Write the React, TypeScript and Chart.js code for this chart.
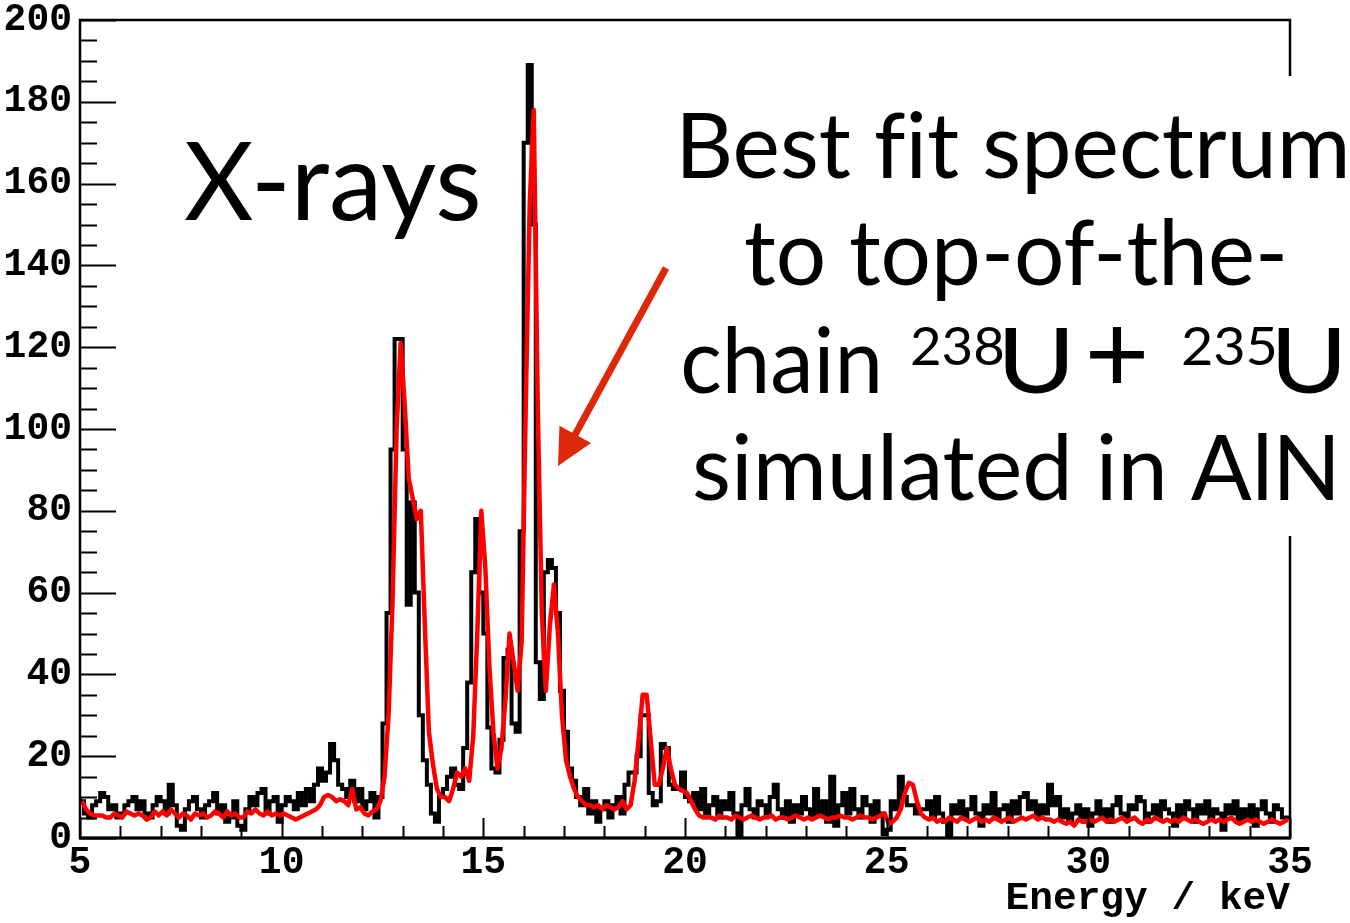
import React, { useEffect, useRef } from 'react';
import { Chart, registerables } from 'chart.js';

Chart.register(...registerables);

// ---- axis definition ----
const X_MIN = 5;
const X_MAX = 35;
const BIN_WIDTH = 0.1; // keV per histogram bin
const Y_MIN = 0;
const Y_MAX = 200;
const X_TICK_STEP = 5;
const Y_TICK_STEP = 20;
const X_TITLE = 'Energy / keV';

// ---- measured spectrum (counts per 0.1 keV bin, bins start at 5.0 keV) ----
const measuredCounts = [
  10, 9, 6, 5, 8, 9, 11, 10, 7, 8,
  5, 6, 8, 9, 10, 7, 9, 6, 5, 8,
  10, 9, 6, 13, 8, 3, 2, 7, 9, 10,
  7, 5, 8, 9, 11, 6, 8, 4, 5, 9,
  3, 2, 7, 10, 8, 11, 12, 6, 9, 10,
  4, 8, 10, 9, 7, 11, 8, 12, 9, 13,
  17, 14, 16, 23, 19, 13, 12, 10, 14, 9,
  12, 7, 9, 11, 5, 10, 28, 55, 95, 122,
  122, 95, 57, 82, 60, 30, 19, 13, 6, 4,
  10, 12, 15, 17, 13, 12, 22, 38, 65, 78,
  60, 50, 27, 17, 16, 24, 44, 46, 28, 26,
  75, 170, 189, 150, 43, 34, 65, 68, 66, 55,
  36, 26, 17, 14, 10, 8, 12, 6, 9, 4,
  7, 9, 5, 8, 10, 6, 13, 16, 16, 20,
  30, 30, 11, 8, 9, 23, 22, 13, 12, 12,
  16, 10, 9, 11, 7, 12, 6, 8, 10, 5,
  9, 7, 11, 6, 0, 8, 12, 7, 5, 9,
  8, 6, 10, 13, 7, 5, 9, 4, 8, 6,
  10, 7, 5, 12, 6, 9, 4, 15, 3, 8,
  11, 6, 12, 7, 5, 10, 8, 4, 9, 6,
  1, 2, 9, 7, 15, 10, 8, 8, 6, 7,
  7, 9, 5, 10, 6, 4, 0, 8, 6, 9,
  5, 7, 10, 6, 3, 8, 6, 11, 5, 7,
  8, 4, 9, 6, 10, 11, 7, 9, 5, 8,
  6, 13, 8, 10, 5, 7, 4, 6, 8, 5,
  7, 3, 6, 9, 5, 7, 4, 8, 10, 6,
  5, 8, 7, 10, 9, 4, 6, 8, 5, 9,
  7, 6, 3, 8, 5, 9, 7, 4, 8, 6,
  9, 5, 7, 6, 2, 8, 6, 9, 4, 7,
  5, 8, 3, 7, 9, 6, 4, 8, 7, 5,
];

// ---- best-fit simulated spectrum (value at each bin centre) ----
const fitCounts = [
  9, 7, 6, 5.5, 5.5, 5.5, 5, 5, 6, 5.5,
  5, 6.5, 6, 5.5, 6, 5.5, 4.5, 5, 6.5, 5.5,
  6.5, 5.5, 7, 6, 5, 6, 5.5, 4.5, 6, 5.5,
  6, 5, 5.5, 6.5, 6, 5, 6.5, 5.5, 6, 5,
  5, 6.5, 6, 7, 6, 5.5, 6.5, 5.5, 6, 5.5,
  6, 5.5, 5, 4.5, 5, 5.5, 6, 6.5, 7, 8,
  10, 10.5, 10, 9, 9.5, 9, 8, 12, 7, 7.5,
  6, 5.5, 6.5, 7, 9, 15, 30, 58, 100, 121,
  106, 88, 83, 78, 80, 52, 26, 18, 12, 10,
  10, 9, 12, 16, 15, 17, 14, 25, 50, 80,
  66, 42, 26, 17, 22, 34, 50, 43, 36, 48,
  105, 155, 178, 105, 55, 36, 52, 62, 50, 30,
  19, 15, 12, 10, 9, 8, 8, 7.5, 8, 7,
  8, 7.5, 7, 7.5, 9, 7, 8, 14, 24, 35,
  35, 24, 13, 13, 17, 22, 17, 13, 12, 11.5,
  11, 9, 7, 5.5, 5, 5, 5, 4.5, 5.5, 5,
  5, 4.5, 5.5, 5, 4.5, 5, 5.5, 5, 4.5, 5,
  5, 5.5, 4.5, 5, 5, 4.5, 5, 5.5, 5, 4.5,
  5, 4.5, 5, 5.5, 5, 4.5, 5, 5, 5.5, 5,
  5, 4.5, 5, 5.5, 5, 5, 4.5, 5, 5.5, 6,
  3.5, 4, 5, 7, 11, 13.5, 13, 9, 6, 5,
  4.5, 5, 4, 4.5, 4, 5, 4.5, 4, 5, 4.5,
  4, 4.5, 5, 4, 4.5, 4, 5, 4.5, 4, 4.5,
  5, 4, 4.5, 5, 4.5, 5, 5.5, 4.5, 5, 4.5,
  4.5, 4, 4.5, 4, 3.5, 4, 3, 4.5, 4, 4,
  4.5, 4, 4.5, 5, 4, 4.5, 4, 4.5, 5, 4,
  4.5, 5, 4, 3.5, 4.5, 4, 5, 4.5, 4, 4.5,
  4, 4.5, 4, 5, 4.5, 4, 4.5, 4, 3.5, 4,
  4.5, 4, 4.5, 4, 4.5, 5, 4, 3.5, 4, 4.5,
  4, 4.5, 4, 3.5, 4, 4.5, 4, 3.5, 4, 4.5,
];

// ---- annotation texts ----
const LABEL_LEFT = 'X-rays';
const LABEL_RIGHT_1 = 'Best fit spectrum';
const LABEL_RIGHT_2 = 'to top-of-the-';
const LABEL_RIGHT_4 = 'simulated in AlN';

const TEXT_FONT = 'Lato, "Open Sans", sans-serif';
const AXIS_FONT = '"Liberation Mono", "DejaVu Sans Mono", monospace';

function fitText(ctx: CanvasRenderingContext2D, text: string, size: number, xLeft: number, xRight: number, baseline: number) {
  ctx.font = `${size}px ${TEXT_FONT}`;
  ctx.textAlign = 'left';
  ctx.textBaseline = 'alphabetic';
  try { (ctx as any).letterSpacing = '0.01px'; } catch (e) { /* ignore */ }
  const m = ctx.measureText(text);
  const ink = m.actualBoundingBoxLeft + m.actualBoundingBoxRight;
  const sx = (xRight - xLeft) / ink;
  ctx.save();
  ctx.translate(xLeft, baseline);
  ctx.scale(sx, 1);
  ctx.fillText(text, m.actualBoundingBoxLeft, 0);
  ctx.restore();
}

function centerText(ctx: CanvasRenderingContext2D, text: string, size: number, cx: number, baseline: number) {
  ctx.font = `${size}px ${TEXT_FONT}`;
  ctx.textAlign = 'center';
  ctx.textBaseline = 'alphabetic';
  ctx.fillText(text, cx, baseline);
}

const decorPlugin = {
  id: 'decor',
  afterDatasetsDraw(chart: any) {
    const { ctx, chartArea, scales } = chart;
    const { left, right, top, bottom } = chartArea;
    const xs = scales.x;
    const ys = scales.y;
    ctx.save();
    ctx.strokeStyle = '#000';
    ctx.lineCap = 'butt';
    // inner ticks on y axis
    ctx.lineWidth = 2;
    for (let v = Y_MIN; v <= Y_MAX; v += 5) {
      const py = Math.round(ys.getPixelForValue(v)) + 0.5;
      const len = v % Y_TICK_STEP === 0 ? 36 : 17;
      ctx.beginPath();
      ctx.moveTo(left, py);
      ctx.lineTo(left + len, py);
      ctx.stroke();
    }
    // inner ticks on x axis
    for (let k = X_MIN; k <= X_MAX; k += 1) {
      const px = Math.round(xs.getPixelForValue(k)) + 0.5;
      const len = k % X_TICK_STEP === 0 ? 20 : 12;
      ctx.beginPath();
      ctx.moveTo(px, bottom);
      ctx.lineTo(px, bottom - len);
      ctx.stroke();
    }
    // frame
    ctx.lineWidth = 2.5;
    ctx.strokeRect(left, top, right - left, bottom - top);
    ctx.lineWidth = 3;
    ctx.beginPath();
    ctx.moveTo(left - 1, bottom);
    ctx.lineTo(right + 1, bottom);
    ctx.stroke();

    // white text box on the right
    ctx.fillStyle = '#fff';
    ctx.fillRect(676, 76, chart.width - 676, 460);

    // texts
    ctx.fillStyle = '#000';
    fitText(ctx, LABEL_LEFT, 108, 185, 478, 220);
    fitText(ctx, LABEL_RIGHT_1, 92, 683, 1345, 178);
    fitText(ctx, LABEL_RIGHT_2, 92, 745, 1283, 285);
    fitText(ctx, 'chain', 92, 683, 878, 393);
    fitText(ctx, '238', 53, 912, 1003, 365);
    fitText(ctx, 'U', 92, 1005, 1068, 393);
    centerText(ctx, '+', 112, 1117, 393);
    fitText(ctx, '235', 53, 1183, 1275, 365);
    fitText(ctx, 'U', 92, 1278, 1340, 393);
    fitText(ctx, LABEL_RIGHT_4, 92, 695, 1333, 500);

    // red arrow
    const tipX = 558, tipY = 466;
    const startX = 666, startY = 268;
    const dx = tipX - startX, dy = tipY - startY;
    const L = Math.hypot(dx, dy);
    const ux = dx / L, uy = dy / L;
    const headLen = 36, headHalf = 18;
    const bx = tipX - ux * headLen, by = tipY - uy * headLen;
    ctx.strokeStyle = 'rgb(222,40,10)';
    ctx.fillStyle = 'rgb(222,40,10)';
    ctx.lineWidth = 7;
    ctx.beginPath();
    ctx.moveTo(startX, startY);
    ctx.lineTo(bx + ux * 4, by + uy * 4);
    ctx.stroke();
    ctx.beginPath();
    ctx.moveTo(tipX, tipY);
    ctx.lineTo(bx - uy * headHalf, by + ux * headHalf);
    ctx.lineTo(bx + uy * headHalf, by - ux * headHalf);
    ctx.closePath();
    ctx.fill();
    ctx.restore();
  },
};

export default function App() {
  const canvasRef = useRef<HTMLCanvasElement | null>(null);

  useEffect(() => {
    const canvas = canvasRef.current;
    if (!canvas) return;

    const histPoints = measuredCounts.map((v, i) => ({ x: X_MIN + i * BIN_WIDTH, y: v }));
    histPoints.push({ x: X_MAX, y: measuredCounts[measuredCounts.length - 1] });
    const fitPoints = fitCounts.map((v, i) => ({ x: X_MIN + (i + 0.5) * BIN_WIDTH, y: v }));

    const tickFont = { family: AXIS_FONT, weight: 'bold' as const, size: 38, lineHeight: 1.2 };

    const chart = new Chart(canvas, {
      type: 'line',
      data: {
        datasets: [
          {
            label: 'Best fit',
            data: fitPoints,
            borderColor: '#ff0000',
            borderWidth: 4.5,
            borderJoinStyle: 'round',
            pointRadius: 0,
            tension: 0,
            fill: false,
            order: 1,
          },
          {
            label: 'Data',
            data: histPoints,
            borderColor: '#000000',
            borderWidth: 4,
            pointRadius: 0,
            stepped: 'after',
            fill: false,
            order: 2,
          },
        ],
      },
      options: {
        responsive: false,
        animation: false,
        devicePixelRatio: 1,
        layout: { padding: { top: 20, right: 60, left: 0, bottom: 0 } },
        plugins: {
          legend: { display: false },
          tooltip: { enabled: false },
          title: { display: false },
        },
        scales: {
          x: {
            type: 'linear',
            min: X_MIN,
            max: X_MAX,
            grid: { display: false, drawTicks: false },
            border: { display: false },
            ticks: {
              stepSize: X_TICK_STEP,
              color: '#000',
              font: tickFont,
              padding: 3,
              maxRotation: 0,
              autoSkip: false,
            },
            title: {
              display: true,
              text: X_TITLE,
              align: 'end',
              color: '#000',
              font: { family: AXIS_FONT, weight: 'bold', size: 39.5, lineHeight: 1.2 },
              padding: { top: 0, bottom: 0 },
            },
            afterFit: (s: any) => {
              s.height = 85;
              s.paddingLeft = 0;
              s.paddingRight = 0;
            },
          },
          y: {
            type: 'linear',
            min: Y_MIN,
            max: Y_MAX,
            grid: { display: false, drawTicks: false },
            border: { display: false },
            ticks: {
              stepSize: Y_TICK_STEP,
              color: '#000',
              font: tickFont,
              padding: 8,
            },
            afterFit: (s: any) => {
              s.width = 80;
              s.paddingTop = 0;
              s.paddingBottom = 0;
            },
          },
        },
      },
      plugins: [decorPlugin],
    });

    return () => {
      chart.destroy();
    };
  }, []);

  return (
    <div style={{ position: 'absolute', left: 0, top: 0, width: 1350, height: 923, background: '#fff' }}>
      <canvas ref={canvasRef} width={1350} height={923} style={{ display: 'block', width: 1350, height: 923 }} />
    </div>
  );
}
